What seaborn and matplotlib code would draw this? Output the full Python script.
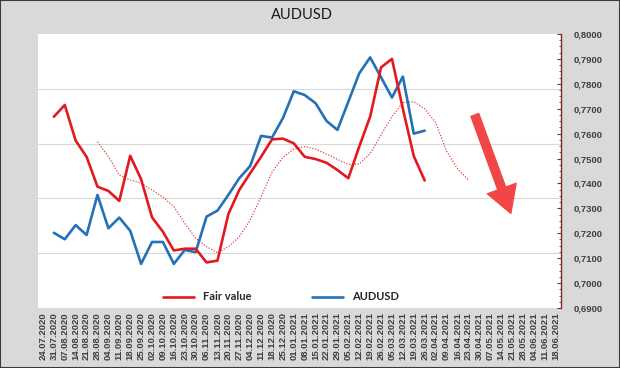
import numpy as np
import pandas as pd
import matplotlib
matplotlib.use("Agg")
import matplotlib.pyplot as plt
import seaborn as sns
from matplotlib.ticker import MultipleLocator, FuncFormatter
from matplotlib.patches import Rectangle

# weekly categories on the x axis
dates = ['24.07.2020', '31.07.2020', '07.08.2020', '14.08.2020', '21.08.2020', '28.08.2020',
         '04.09.2020', '11.09.2020', '18.09.2020', '25.09.2020', '02.10.2020', '09.10.2020',
         '16.10.2020', '23.10.2020', '30.10.2020', '06.11.2020', '13.11.2020', '20.11.2020',
         '27.11.2020', '04.12.2020', '11.12.2020', '18.12.2020', '25.12.2020', '01.01.2021',
         '08.01.2021', '15.01.2021', '22.01.2021', '29.01.2021', '05.02.2021', '12.02.2021',
         '19.02.2021', '26.02.2021', '05.03.2021', '12.03.2021', '19.03.2021', '26.03.2021',
         '02.04.2021', '09.04.2021', '16.04.2021', '23.04.2021', '30.04.2021', '07.05.2021',
         '14.05.2021', '21.05.2021', '28.05.2021', '04.06.2021', '11.06.2021', '18.06.2021']

# Fair value, 31.07.2020 .. 26.03.2021
fair_value = [0.7668, 0.7715, 0.7572, 0.7507, 0.7387, 0.7370, 0.7330, 0.7511, 0.7417,
              0.7264, 0.7206, 0.7131, 0.7138, 0.7138, 0.7083, 0.7090, 0.7277, 0.7374,
              0.7441, 0.7507, 0.7577, 0.7580, 0.7561, 0.7507, 0.7498, 0.7483, 0.7454,
              0.7421, 0.7548, 0.7668, 0.7866, 0.7900, 0.7700, 0.7510, 0.7412]

# AUDUSD spot, 31.07.2020 .. 26.03.2021
audusd = [0.7202, 0.7176, 0.7233, 0.7193, 0.7354, 0.7220, 0.7263, 0.7210, 0.7077,
          0.7165, 0.7165, 0.7077, 0.7133, 0.7124, 0.7267, 0.7291, 0.7354, 0.7421,
          0.7470, 0.7591, 0.7584, 0.7662, 0.7770, 0.7755, 0.7722, 0.7651, 0.7615,
          0.7728, 0.7842, 0.7906, 0.7826, 0.7745, 0.7829, 0.7600, 0.7612]

# dotted trend of fair value, 28.08.2020 .. 23.04.2021
fair_trend = [0.7568, 0.7507, 0.7434, 0.7414, 0.7401, 0.7374, 0.7345, 0.7307, 0.7240,
              0.7180, 0.7146, 0.7122, 0.7146, 0.7186, 0.7253, 0.7347, 0.7445, 0.7505,
              0.7538, 0.7548, 0.7538, 0.7518, 0.7497, 0.7476, 0.7478, 0.7520, 0.7595,
              0.7668, 0.7725, 0.7728, 0.7700, 0.7645, 0.7530, 0.7460, 0.7414]

fair_start = dates.index('31.07.2020')
trend_start = dates.index('28.08.2020')

RED = '#e3191f'
BLUE = '#2372b8'
GRAY_BG = '#d9d9d9'
TXT = '#3f3f3f'
AXIS = '#7b2c2c'

sns.set_style("white")
plt.rcParams['font.family'] = ['Liberation Sans', 'DejaVu Sans']

fig = plt.figure(figsize=(6.2, 3.68), dpi=100, facecolor=GRAY_BG)
ax = fig.add_axes([37.5 / 620, 1 - 308 / 368, (561 - 37.5) / 620, (308 - 34) / 368])
ax.set_facecolor('white')

# gridlines from the hidden primary axis (5 equal bands)
for g in np.linspace(0.69, 0.80, 6)[1:-1]:
    ax.axhline(g, color='#d9d9d9', lw=0.8, zorder=0)

x_fair = np.arange(fair_start, fair_start + len(fair_value))
x_trend = np.arange(trend_start, trend_start + len(fair_trend))

sns.lineplot(x=x_trend, y=fair_trend, ax=ax, color='#e04848', lw=0.9,
             linestyle=(0, (1, 1.3)), legend=False)
sns.lineplot(x=x_fair, y=audusd, ax=ax, color=BLUE, lw=1.9, legend=False)
sns.lineplot(x=x_fair, y=fair_value, ax=ax, color=RED, lw=1.9, legend=False)

ax.set_xlim(-0.5, len(dates) - 0.5)
ax.set_ylim(0.69, 0.80)
ax.set_xlabel('')
ax.set_ylabel('')

# x axis: rotated date labels in the grey area
ax.set_xticks(range(len(dates)))
ax.set_xticklabels(dates, rotation=90, fontsize=6.8, fontweight='bold', color=TXT)
ax.tick_params(axis='x', length=0, pad=3)

# y axis on the right with comma decimals
ax.yaxis.tick_right()
ax.yaxis.set_major_locator(MultipleLocator(0.01))
ax.yaxis.set_minor_locator(MultipleLocator(0.0025))
ax.yaxis.set_major_formatter(FuncFormatter(lambda v, p: f"{v:.4f}".replace('.', ',')))
ax.tick_params(axis='y', which='major', direction='in', length=3, width=0.8,
               color=AXIS, labelsize=6.8, labelcolor=TXT, pad=9)
ax.tick_params(axis='y', which='minor', direction='in', length=1.5, width=0.6,
               color=AXIS, right=True)
for lbl in ax.get_yticklabels():
    lbl.set_fontweight('bold')

for side in ['top', 'left', 'bottom']:
    ax.spines[side].set_visible(False)
ax.spines['right'].set_color(AXIS)
ax.spines['right'].set_linewidth(1)

# big red arrow
ax.annotate('', xy=(42.9, 0.7280), xytext=(39.6, 0.7675),
            arrowprops=dict(arrowstyle='simple,head_length=1.9,head_width=2.2,tail_width=0.6',
                            color='#f14646', mutation_scale=10, shrinkA=0, shrinkB=0,
                            capstyle='round', joinstyle='round'))

# legend
handles = [plt.Line2D([], [], color=RED, lw=1.9), plt.Line2D([], [], color=BLUE, lw=1.9)]
leg = fig.legend(handles, ['Fair value', 'AUDUSD'], loc='center',
                 bbox_to_anchor=(281 / 620, 1 - 297 / 368), ncol=2, frameon=False,
                 handlelength=2.8, handletextpad=0.8, columnspacing=5.4,
                 prop={'family': 'Lato', 'weight': 'bold', 'size': 8})
for t in leg.get_texts():
    t.set_color('#262626')

fig.text(302 / 620, 1 - 15 / 368, 'AUDUSD', ha='center', va='center',
         fontsize=10.5, family='Lato', color='#1a1a1a')

fig.patches.append(Rectangle((0, 0), 1, 1, transform=fig.transFigure, fill=False,
                             edgecolor='#3a3a3a', lw=1.5))

fig.savefig('out.png', dpi=100, facecolor=GRAY_BG)
